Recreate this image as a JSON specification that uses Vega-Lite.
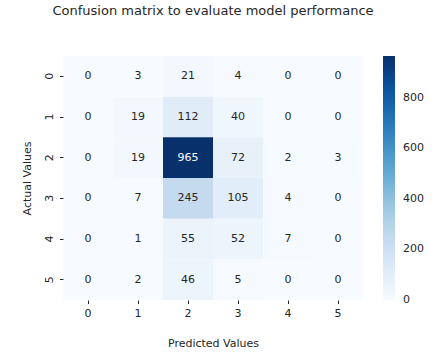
{
  "$schema": "https://vega.github.io/schema/vega-lite/v6.json",
  "autosize": "none",
  "width": 300,
  "height": 244,
  "padding": {"left": 63, "top": 56, "right": 82, "bottom": 61},
  "background": "white",
  "config": {
    "font": "DejaVu Sans",
    "view": {"stroke": null},
    "axis": {"grid": false, "domain": false, "labelFontSize": 11, "titleFontSize": 11, "labelColor": "#262626", "titleColor": "#262626", "tickColor": "#262626", "tickSize": 3.5, "titleFontWeight": "normal"}
  },
  "title": {"text": "Confusion matrix to evaluate model performance", "fontSize": 13, "fontWeight": "normal", "color": "#262626", "anchor": "middle", "baseline": "alphabetic", "offset": 28},
  "data": {"values": [
    {"actual": 0, "predicted": 0, "count": 0}, {"actual": 0, "predicted": 1, "count": 3}, {"actual": 0, "predicted": 2, "count": 21}, {"actual": 0, "predicted": 3, "count": 4}, {"actual": 0, "predicted": 4, "count": 0}, {"actual": 0, "predicted": 5, "count": 0},
    {"actual": 1, "predicted": 0, "count": 0}, {"actual": 1, "predicted": 1, "count": 19}, {"actual": 1, "predicted": 2, "count": 112}, {"actual": 1, "predicted": 3, "count": 40}, {"actual": 1, "predicted": 4, "count": 0}, {"actual": 1, "predicted": 5, "count": 0},
    {"actual": 2, "predicted": 0, "count": 0}, {"actual": 2, "predicted": 1, "count": 19}, {"actual": 2, "predicted": 2, "count": 965}, {"actual": 2, "predicted": 3, "count": 72}, {"actual": 2, "predicted": 4, "count": 2}, {"actual": 2, "predicted": 5, "count": 3},
    {"actual": 3, "predicted": 0, "count": 0}, {"actual": 3, "predicted": 1, "count": 7}, {"actual": 3, "predicted": 2, "count": 245}, {"actual": 3, "predicted": 3, "count": 105}, {"actual": 3, "predicted": 4, "count": 4}, {"actual": 3, "predicted": 5, "count": 0},
    {"actual": 4, "predicted": 0, "count": 0}, {"actual": 4, "predicted": 1, "count": 1}, {"actual": 4, "predicted": 2, "count": 55}, {"actual": 4, "predicted": 3, "count": 52}, {"actual": 4, "predicted": 4, "count": 7}, {"actual": 4, "predicted": 5, "count": 0},
    {"actual": 5, "predicted": 0, "count": 0}, {"actual": 5, "predicted": 1, "count": 2}, {"actual": 5, "predicted": 2, "count": 46}, {"actual": 5, "predicted": 3, "count": 5}, {"actual": 5, "predicted": 4, "count": 0}, {"actual": 5, "predicted": 5, "count": 0}
  ]},
  "encoding": {
    "x": {"field": "predicted", "type": "ordinal", "scale": {"paddingInner": 0, "paddingOuter": 0}, "axis": {"title": "Predicted Values", "labelAngle": 0, "labelPadding": 4, "titlePadding": 19}},
    "y": {"field": "actual", "type": "ordinal", "scale": {"paddingInner": 0, "paddingOuter": 0}, "axis": {"title": "Actual Values", "labelAngle": -90, "labelPadding": 5, "titlePadding": 11}}
  },
  "layer": [
    {
      "mark": {"type": "rect"},
      "encoding": {
        "color": {
          "field": "count", "type": "quantitative",
          "scale": {"domain": [-0.5, 120.625, 241.25, 361.875, 482.5, 603.125, 723.75, 844.375, 965],
                    "range": ["#f7fbff", "#deebf7", "#c6dbef", "#9ecae1", "#6baed6", "#4292c6", "#2171b5", "#08519c", "#08306b"]},
          "legend": {"orient": "none", "legendX": 320, "legendY": 0, "direction": "vertical", "title": null, "gradientLength": 244, "gradientThickness": 12, "gradientStrokeWidth": 0, "values": [0, 200, 400, 600, 800], "labelFontSize": 11, "labelColor": "#262626", "labelOffset": 8, "labelBaseline": "middle", "labelOverlap": false}
        }
      }
    },
    {
      "mark": {"type": "text", "fontSize": 11},
      "encoding": {
        "text": {"field": "count", "type": "quantitative"},
        "color": {"condition": {"test": "datum.count > 500", "value": "white"}, "value": "#262626"}
      }
    }
  ]
}
